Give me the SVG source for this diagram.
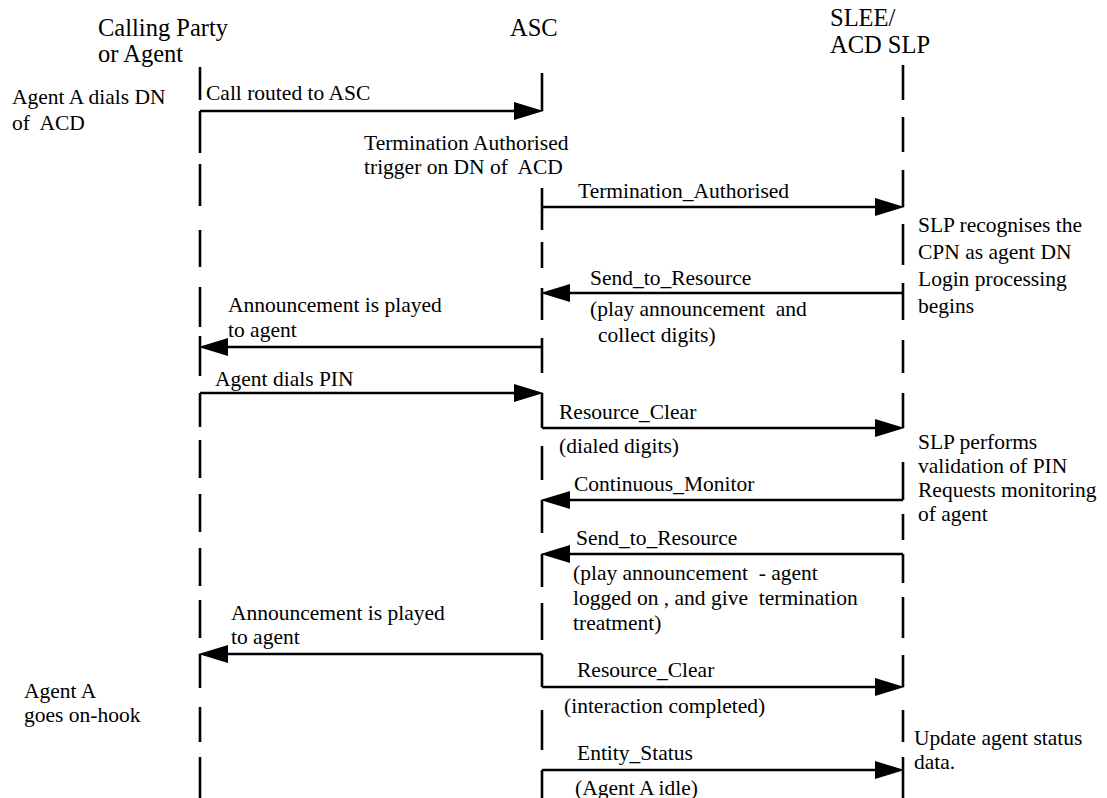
<svg xmlns="http://www.w3.org/2000/svg" width="1107" height="798" viewBox="0 0 1107 798">
  <style>
    .h{font-family:"Liberation Serif","Times New Roman",serif;font-size:24.5px;fill:#000}
    .t{font-family:"Liberation Serif","Times New Roman",serif;font-size:21.5px;fill:#000}
    .life{stroke:#000;stroke-width:2.6;fill:none}
    .msg{stroke:#000;stroke-width:2.6;fill:none;marker-end:url(#ah)}
  </style>
  <defs>
    <marker id="ah" markerUnits="userSpaceOnUse" markerWidth="30" markerHeight="18" viewBox="0 0 28 17" refX="2" refY="8.5" orient="auto">
      <path d="M0,0 L28,8.5 L0,17 Z" fill="#000"/>
    </marker>
  </defs>
  <rect width="1107" height="798" fill="#fff"/>

  <!-- Calling party lifeline -->
  <g id="calling-party">
    <text class="h" x="98" y="36">Calling Party</text>
    <text class="h" x="98" y="62">or Agent</text>
    <path class="life" d="M200,67V100 M200,111V153 M200,164V206 M200,230V267 M200,287V327 M200,336V376 M200,393V427 M200,440V478 M200,494V532 M200,548V586 M200,600V638 M200,654V688 M200,707V742 M200,757V798"/>
  </g>

  <!-- ASC lifeline -->
  <g id="asc">
    <text class="h" x="510" y="36">ASC</text>
    <path class="life" d="M542,73V111 M542,188V230 M542,242V268 M542,288V320 M542,338V373 M542,393V428 M542,446V480 M542,500V533 M542,554V587 M542,603V640 M542,654V687 M542,710V750 M542,770V798"/>
  </g>

  <!-- SLEE / ACD SLP lifeline -->
  <g id="slee">
    <text class="h" x="830" y="26">SLEE/</text>
    <text class="h" x="830" y="53">ACD SLP</text>
    <path class="life" d="M903,65V100 M903,117V152 M903,170V207 M903,224V265 M903,283V320 M903,340V373 M903,393V428 M903,462V500 M903,514V540 M903,554V583 M903,597V638 M903,655V687 M903,710V742 M903,757V798"/>
  </g>

  <!-- side notes -->
  <g id="note-dial">
    <text class="t" x="12" y="104">Agent A dials DN</text>
    <text class="t" x="12" y="130">of&#160; ACD</text>
  </g>
  <g id="note-trigger">
    <text class="t" x="364" y="150">Termination Authorised</text>
    <text class="t" x="364" y="174">trigger on DN of&#160; ACD</text>
  </g>
  <g id="note-recognise">
    <text class="t" x="918" y="232">SLP recognises the</text>
    <text class="t" x="918" y="259">CPN as agent DN</text>
    <text class="t" x="918" y="286">Login processing</text>
    <text class="t" x="918" y="313">begins</text>
  </g>
  <g id="note-validate">
    <text class="t" x="918" y="449">SLP performs</text>
    <text class="t" x="918" y="473">validation of PIN</text>
    <text class="t" x="918" y="497">Requests monitoring</text>
    <text class="t" x="918" y="521">of agent</text>
  </g>
  <g id="note-onhook">
    <text class="t" x="24" y="698">Agent A</text>
    <text class="t" x="24" y="722">goes on-hook</text>
  </g>
  <g id="note-update">
    <text class="t" x="914" y="745">Update agent status</text>
    <text class="t" x="914" y="769">data.</text>
  </g>

  <!-- messages -->
  <g id="connectors">
    <path class="msg" d="M200,111H516"/>
    <path class="msg" d="M542,207H877"/>
    <path class="msg" d="M903,293H568"/>
    <path class="msg" d="M542,347H226"/>
    <path class="msg" d="M200,393H516"/>
    <path class="msg" d="M542,428H877"/>
    <path class="msg" d="M903,500H568"/>
    <path class="msg" d="M903,554H568"/>
    <path class="msg" d="M542,654H226"/>
    <path class="msg" d="M542,687H877"/>
    <path class="msg" d="M542,770H877"/>

    <text class="t" x="206" y="100">Call routed to ASC</text>
    <text class="t" x="578" y="198">Termination_Authorised</text>
    <text class="t" x="590" y="285">Send_to_Resource</text>
    <text class="t" x="590" y="316">(play announcement&#160; and</text>
    <text class="t" x="598" y="342">collect digits)</text>
    <text class="t" x="228" y="312">Announcement is played</text>
    <text class="t" x="228" y="337">to agent</text>
    <text class="t" x="215" y="386">Agent dials PIN</text>
    <text class="t" x="559" y="419">Resource_Clear</text>
    <text class="t" x="559" y="453">(dialed digits)</text>
    <text class="t" x="574" y="491">Continuous_Monitor</text>
    <text class="t" x="576" y="545">Send_to_Resource</text>
    <text class="t" x="573" y="580">(play announcement&#160; - agent</text>
    <text class="t" x="573" y="605">logged on , and give&#160; termination</text>
    <text class="t" x="573" y="630">treatment)</text>
    <text class="t" x="231" y="620">Announcement is played</text>
    <text class="t" x="231" y="644">to agent</text>
    <text class="t" x="577" y="677">Resource_Clear</text>
    <text class="t" x="564" y="713">(interaction completed)</text>
    <text class="t" x="577" y="760">Entity_Status</text>
    <text class="t" x="575" y="795">(Agent A idle)</text>
  </g>
</svg>
